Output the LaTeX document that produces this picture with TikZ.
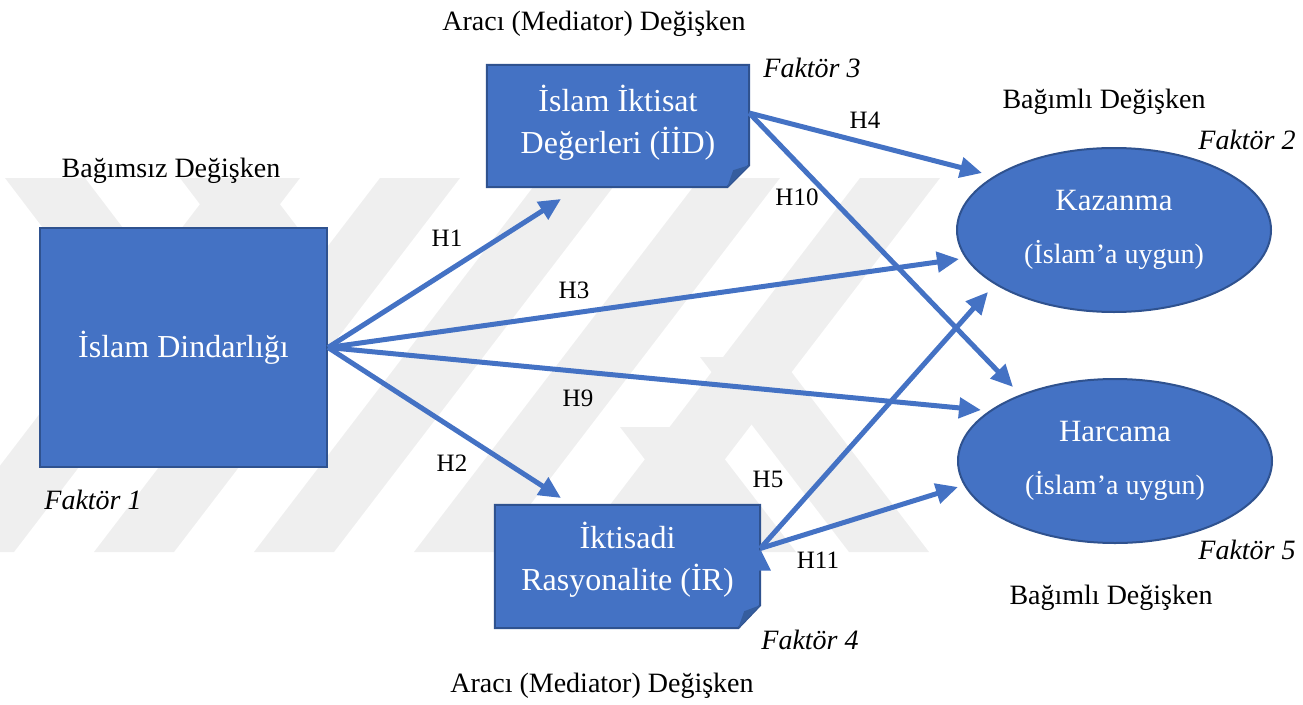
\documentclass[tikz,border=0pt]{standalone}
\usepackage{fontspec}
\setmainfont{Liberation Serif}
\usepackage{tikz}
\usetikzlibrary{arrows.meta, shapes.geometric, backgrounds, positioning}

\definecolor{officeblue}{HTML}{4472C4}
\definecolor{edgeblue}{HTML}{2F528F}
\definecolor{foldblue}{HTML}{355D9E}
\definecolor{wmgray}{HTML}{EFEFEF}

\begin{document}
\begin{tikzpicture}[x=1pt,y=-1pt]
        % Setup the styles
        \tikzset{ind style/.style={rectangle,
                                   draw=edgeblue,
                                   line width=2pt,
                                   fill=officeblue,
                                   text=white,
                                   inner sep=0pt,
                                   minimum width=287pt,
                                   minimum height=239pt,
                                   font=\fontsize{32}{38}\selectfont}}
        \tikzset{med style/.style={rectangle,
                                   inner sep=0pt,
                                   text=white,
                                   align=center,
                                   font=\fontsize{32}{38}\selectfont}}
        \tikzset{dep style/.style={ellipse,
                                   draw=edgeblue,
                                   line width=2pt,
                                   fill=officeblue,
                                   text=white,
                                   inner sep=0pt,
                                   minimum width=314pt,
                                   minimum height=164pt,
                                   align=center,
                                   font=\fontsize{31}{37}\selectfont}}
        \tikzset{role style/.style={font=\fontsize{28}{34}\selectfont}}
        \tikzset{factor style/.style={font=\fontsize{28}{34}\selectfont\itshape}}
        \tikzset{hyp style/.style={font=\fontsize{25}{30}\selectfont}}
        \tikzset{arrow style/.style={color=officeblue,
                                     line width=5pt,
                                     -{Triangle[length=22pt, width=20pt]}}}

        \useasboundingbox (0,0) rectangle (1303,704);

        % Watermark in the back
        \begin{scope}[on background layer]
          \begin{scope}
            \clip (0,178) rectangle (975,552);
            \foreach \b in {-66,94,254,414,574}
                \fill[wmgray] (\b,552) -- ++(80,0) -- ++(286,-374) -- ++(-80,0) -- cycle;
            \foreach \t in {5,180}
                \fill[wmgray] (\t,178) -- ++(80,0) -- ++(38,50) -- ++(-80,0) -- cycle;
            \fill[wmgray] (700,357) -- (780,357) -- (929,552) -- (849,552) -- cycle;
            \fill[wmgray] (620,427) -- (700,427) -- (796,552) -- (716,552) -- cycle;
          \end{scope}
        \end{scope}

        % Draw the variables
        \node[ind style] at (183.5,347.5) (isd) {İslam Dindarlığı};
        \node[med style, minimum width=262pt, minimum height=122pt, text depth=14pt]
            at (618,126) (iid) {İslam İktisat\\[4pt]Değerleri (İİD)};
        \node[med style, minimum width=265pt, minimum height=123pt, text depth=21pt]
            at (627.5,566.5) (ir) {İktisadi\\[4pt]Rasyonalite (İR)};
        \node[dep style] at (1114,230) (kaz)
            {Kazanma\\[16pt]{\fontsize{28}{34}\selectfont(İslam’a uygun)}};
        \node[dep style] at (1115,461) (har)
            {Harcama\\[16pt]{\fontsize{28}{34}\selectfont(İslam’a uygun)}};

        % Folded corner boxes
        \begin{scope}[on background layer]
            \filldraw[fill=officeblue, draw=edgeblue, line width=2pt]
                (iid.north west) -- (iid.north east) -- ([yshift=22pt]iid.south east)
                -- ([xshift=-22pt]iid.south east) -- (iid.south west) -- cycle;
            \fill[foldblue] ([yshift=22pt]iid.south east) -- ([xshift=-22pt]iid.south east)
                -- ([xshift=-16pt,yshift=17pt]iid.south east) -- cycle;
            \filldraw[fill=officeblue, draw=edgeblue, line width=2pt]
                (ir.north west) -- (ir.north east) -- ([yshift=23pt]ir.south east)
                -- ([xshift=-22pt]ir.south east) -- (ir.south west) -- cycle;
            \fill[foldblue] ([yshift=23pt]ir.south east) -- ([xshift=-22pt]ir.south east)
                -- ([xshift=-16pt,yshift=17pt]ir.south east) -- cycle;
        \end{scope}

        % Labels
        \node[role style] at (594,24) (medtop) {Aracı (Mediator) Değişken};
        \node[factor style] at (812,68) (fak3) {Faktör 3};
        \node[role style] at (1104,102) (deptop) {Bağımlı Değişken};
        \node[factor style] at (1247,140) (fak2) {Faktör 2};
        \node[role style] at (171,171) (indlab) {Bağımsız Değişken};
        \node[factor style] at (93,500) (fak1) {Faktör 1};
        \node[factor style] at (1247,550) (fak5) {Faktör 5};
        \node[role style] at (1111,598) (depbot) {Bağımlı Değişken};
        \node[factor style] at (810,640) (fak4) {Faktör 4};
        \node[role style] at (602,686) (medbot) {Aracı (Mediator) Değişken};

        % Arrow ends
        \coordinate (h1tip) at (561,199);
        \coordinate (h2tip) at (561,498);
        \coordinate (h3tip) at (959,259);
        \coordinate (h9tip) at (981,410);
        \coordinate (h4tip) at (982,173);
        \coordinate (h10tip) at (1013,387);
        \coordinate (h5tip) at (988,292);
        \coordinate (h11tip) at (958,487);

        % Connect the variables with arrows
        \draw[arrow style]
              (isd.east)               edge  (h1tip)
              (isd.east)               edge  (h2tip)
              (isd.east)               edge  (h3tip)
              (isd.east)               edge  (h9tip)
              ([yshift=13pt]iid.east)  edge  (h4tip)
              ([yshift=13pt]iid.east)  edge  (h10tip)
              ([yshift=18pt]ir.east)   edge  (h5tip)
              ([yshift=18pt]ir.east)   edge  (h11tip);

        % Hypotheses
        \node[hyp style] at (447,238) (hyp1) {H1};
        \node[hyp style] at (452,463) (hyp2) {H2};
        \node[hyp style] at (574,290) (hyp3) {H3};
        \node[hyp style] at (578,398) (hyp9) {H9};
        \node[hyp style] at (865,120) (hyp4) {H4};
        \node[hyp style] at (797,197) (hyp10) {H10};
        \node[hyp style] at (768,479) (hyp5) {H5};
        \node[hyp style] at (818,560) (hyp11) {H11};
\end{tikzpicture}
\end{document}
